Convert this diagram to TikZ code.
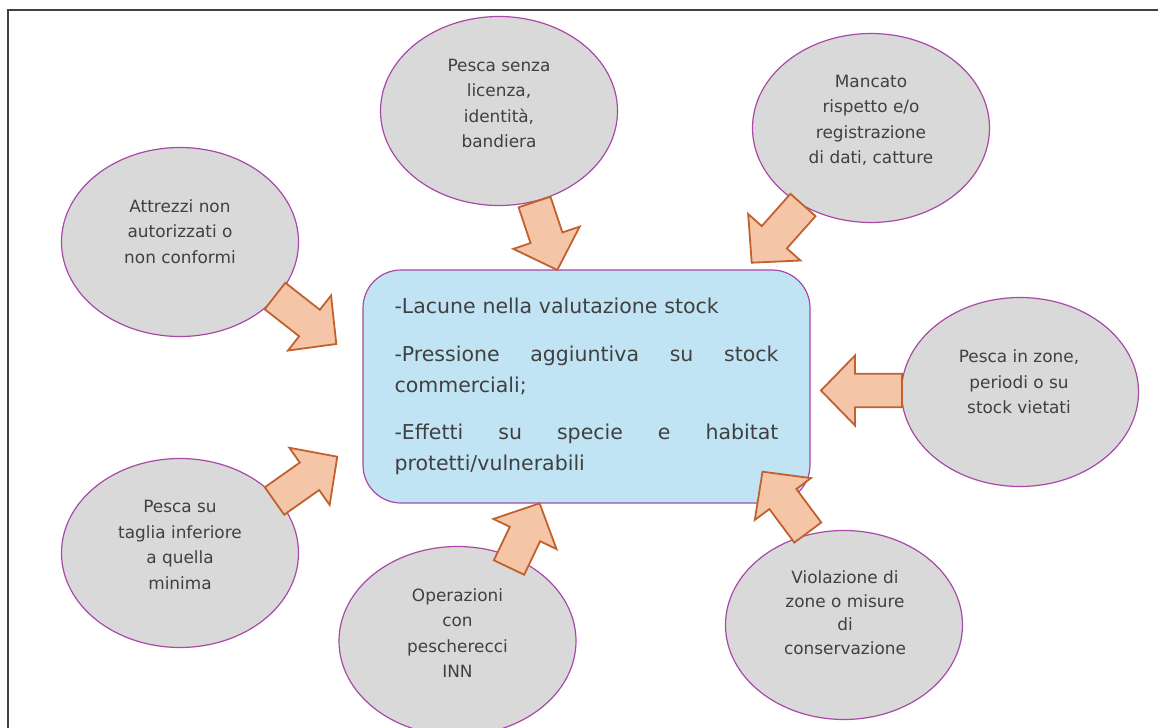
\documentclass[tikz,border=0pt]{standalone}
\usepackage{fontspec}
\setmainfont{DejaVu Sans}
\usetikzlibrary{shapes.geometric,calc}
\definecolor{ellf}{HTML}{D9D9D9}
\definecolor{ellb}{HTML}{A849A8}
\definecolor{boxf}{HTML}{C1E4F5}
\definecolor{arrf}{HTML}{F5C5A7}
\definecolor{arrb}{HTML}{C0612E}
\definecolor{txt}{HTML}{404040}
\definecolor{framec}{HTML}{404040}
\tikzset{
  ell/.style={ellipse, draw=ellb, fill=ellf, line width=0.6pt,
    minimum width=118.5pt, minimum height=94.5pt, inner sep=0pt},
  etext/.style={align=center, text=txt, inner sep=0pt,
    font=\fontsize{8.45pt}{12.75pt}\selectfont},
  mainbox/.style={rectangle, rounded corners=19pt, draw=ellb, fill=boxf,
    line width=0.6pt, minimum width=223.5pt, minimum height=116.5pt,
    text width=192pt, align=left, inner sep=0pt, text=txt,
    font=\fontsize{10.25pt}{15.5pt}\selectfont},
  barrow/.style={draw=arrb, fill=arrf, line width=0.9pt, line join=miter,
    to path={let \p1=(\tikztostart), \p2=(\tikztotarget),
      \n1={atan2(\y2-\y1,\x2-\x1)}, \n2={veclen(\x2-\x1,\y2-\y1)-17} in
      ($(\p1)+({\n1+90}:8.4pt)$)
      -- ($(\p1)+({\n1}:{\n2*1pt})+({\n1+90}:8.4pt)$)
      -- ($(\p1)+({\n1}:{\n2*1pt})+({\n1+90}:17.5pt)$)
      -- (\p2)
      -- ($(\p1)+({\n1}:{\n2*1pt})+({\n1-90}:17.5pt)$)
      -- ($(\p1)+({\n1}:{\n2*1pt})+({\n1-90}:8.4pt)$)
      -- ($(\p1)+({\n1-90}:8.4pt)$)
      -- cycle}}
}
\newcommand{\jline}[1]{\leavevmode\hbox to 192pt{#1}}
\begin{document}
\begin{tikzpicture}[x=0.5pt,y=-0.5pt]
\useasboundingbox (0,0) rectangle (1158,728);
\draw[framec, line width=0.8pt] (8,728) -- (8,10) -- (1158,10);

% main box
\node[mainbox] (m) at (586.5,386.5) {-Lacune nella valutazione stock\\[8.25pt]
\jline{-Pressione\hfill aggiuntiva\hfill su\hfill stock}\\
commerciali;\\[8.25pt]
\jline{-Effetti\hfill su\hfill specie\hfill e\hfill habitat}\\
protetti/vulnerabili};

% ellipses
\node[ell] (e1) at (499,111) {};
\node[ell] (e2) at (871,128) {};
\node[ell] (e3) at (180,242) {};
\node[ell] (e4) at (1020,392) {};
\node[ell] (e5) at (180,553) {};
\node[ell] (e6) at (457.5,641) {};
\node[ell] (e7) at (844,625) {};

\node[etext] (t1) at (499,103.3) {Pesca senza\\licenza,\\identità,\\bandiera};
\node[etext] (t2) at (871,120.5) {Mancato\\rispetto e/o\\registrazione\\di dati, catture};
\node[etext] (t3) at (180,231.3) {Attrezzi non\\autorizzati o\\non conformi};
\node[etext] (t4) at (1019,381.8) {Pesca in zone,\\periodi o su\\stock vietati};
\node[etext] (t5) at (180,544.8) {Pesca su\\taglia inferiore\\a quella\\minima};
\node[etext] (t6) at (457.5,633.3) {Operazioni\\con\\pescherecci\\INN};
\node[etext, font=\fontsize{8.45pt}{11.85pt}\selectfont] (t7) at (845,612.8) {Violazione di\\zone o misure\\di\\conservazione};

% arrow ends
\coordinate (a1) at (534.5,202);   \coordinate (b1) at (557.3,270);
\coordinate (a2) at (803,205);     \coordinate (b2) at (751.7,262.7);
\coordinate (a3) at (275,296);     \coordinate (b3) at (336.3,344);
\coordinate (a4) at (902,390.5);   \coordinate (b4) at (821,390.5);
\coordinate (a5) at (274.5,501);   \coordinate (b5) at (337.3,456.7);
\coordinate (a6) at (509,567.5);   \coordinate (b6) at (539.6,503.3);
\coordinate (a7) at (807.8,532.5); \coordinate (b7) at (762.5,471.7);

\foreach \i in {1,...,7}{\draw[barrow] (a\i) to (b\i);}
\end{tikzpicture}
\end{document}
